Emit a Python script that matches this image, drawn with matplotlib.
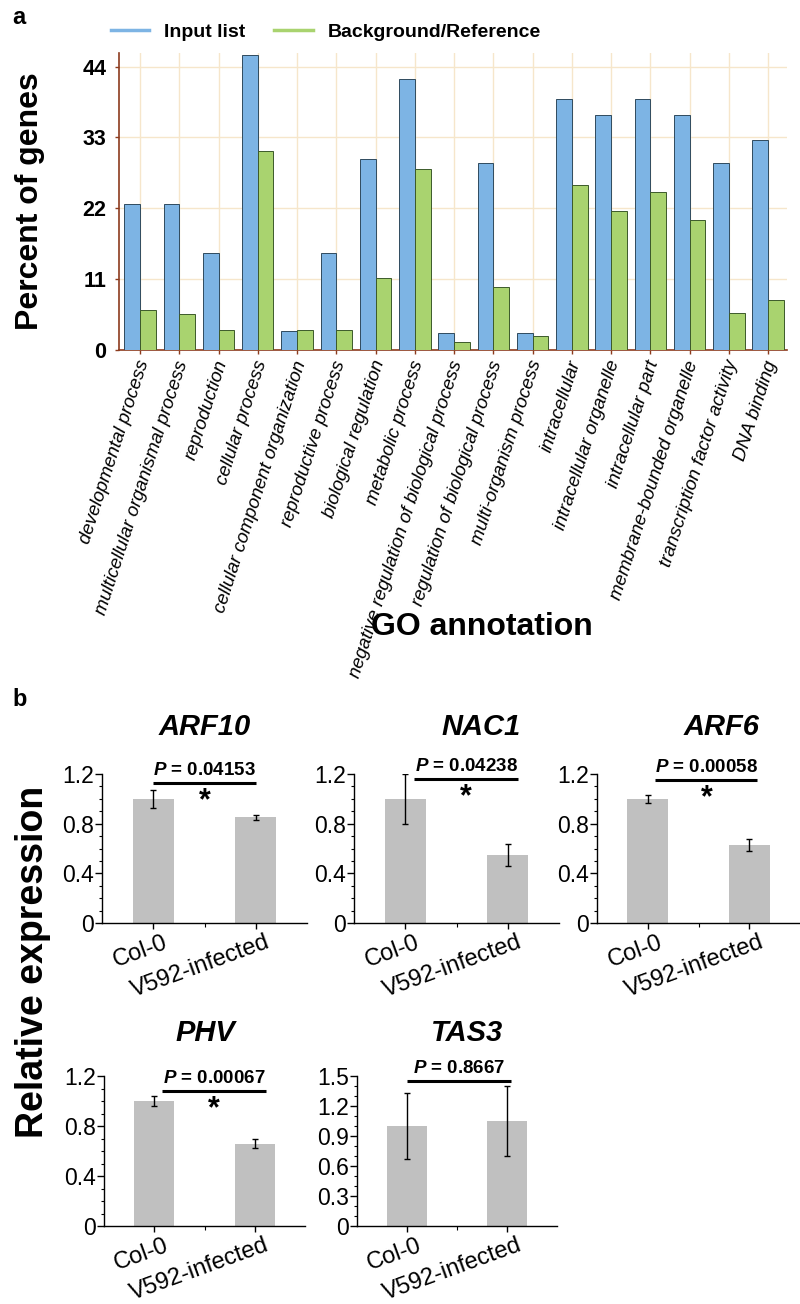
import numpy as np
import matplotlib
matplotlib.use("Agg")
import matplotlib.pyplot as plt
from matplotlib.lines import Line2D
from matplotlib.ticker import MultipleLocator
import matplotlib.transforms as mtransforms

plt.rcParams['font.family'] = ['Liberation Sans', 'DejaVu Sans']
plt.rcParams['mathtext.fontset'] = 'custom'
plt.rcParams['mathtext.bfit'] = 'Liberation Sans:italic:bold'
plt.rcParams['mathtext.bf'] = 'Liberation Sans:bold'

# ---- panel a data (GO annotation) ----
go_terms = ["developmental process", "multicellular organismal process", "reproduction",
            "cellular process", "cellular component organization", "reproductive process",
            "biological regulation", "metabolic process",
            "negative regulation of biological process", "regulation of biological process",
            "multi-organism process", "intracellular", "intracellular organelle",
            "intracellular part", "membrane-bounded organelle",
            "transcription factor activity", "DNA binding"]
input_list = [22.6, 22.6, 15.0, 45.8, 3.0, 15.0, 29.6, 42.0, 2.7, 29.1, 2.7,
              39.0, 36.4, 39.0, 36.4, 29.1, 32.6]
background = [6.2, 5.6, 3.1, 30.9, 3.1, 3.1, 11.1, 28.1, 1.3, 9.8, 2.2,
              25.6, 21.6, 24.6, 20.2, 5.8, 7.7]
go_ticks = [0, 11, 22, 33, 44]

# ---- panel b data (qPCR) ----
genes = ["ARF10", "NAC1", "ARF6", "PHV", "TAS3"]
groups = ["Col-0", "V592-infected"]
expr_col0 = [1.0, 1.0, 1.0, 1.0, 1.0]
expr_v592 = [0.85, 0.55, 0.63, 0.66, 1.05]
err_col0 = [0.07, 0.20, 0.03, 0.04, 0.33]
err_v592 = [0.02, 0.09, 0.05, 0.035, 0.35]
p_values = ["0.04153", "0.04238", "0.00058", "0.00067", "0.8667"]
significant = [True, True, True, True, False]
y_max = [1.2, 1.2, 1.2, 1.2, 1.5]
y_step = [0.4, 0.4, 0.4, 0.4, 0.3]

W, H = 800, 1304
fig = plt.figure(figsize=(W / 100, H / 100), dpi=100)


def px_axes(l, t, r, b):
    return fig.add_axes([l / W, 1 - b / H, (r - l) / W, (b - t) / H])


def shift_labels(labels, dx_px, dy_px=0):
    off = mtransforms.ScaledTranslation(dx_px / 100, dy_px / 100, fig.dpi_scale_trans)
    for lab in labels:
        lab.set_transform(lab.get_transform() + off)


# ================= panel a =================
blue = '#7db4e4'
green = '#a9d36f'
brown = '#8c3b1e'

ax = px_axes(119, 53, 787, 350)
x = np.arange(len(go_terms))
ax.bar(x - 0.2, input_list, width=0.4, color=blue, edgecolor='#2f4a5e', linewidth=0.7, zorder=3)
ax.bar(x + 0.2, background, width=0.4, color=green, edgecolor='#3c5a2a', linewidth=0.7, zorder=3)
ax.set_xlim(-0.535, 16.48)
ax.set_ylim(0, 46.1)
ax.set_yticks(go_ticks)
ax.set_xticks(x)
ax.grid(True, color='#f6e6cb', linewidth=1.0, zorder=0)
ax.set_axisbelow(True)
for s in ['top', 'right']:
    ax.spines[s].set_visible(False)
for s in ['left', 'bottom']:
    ax.spines[s].set_color(brown)
    ax.spines[s].set_linewidth(1.2)
ax.tick_params(axis='both', colors=brown, length=3, width=1)
ax.tick_params(axis='y', labelcolor='black', labelsize=15.5, pad=6)
ax.tick_params(axis='x', labelcolor='black', pad=2)
for lab in ax.get_yticklabels():
    lab.set_fontweight('bold')
ax.set_xticklabels(go_terms, rotation=72, ha='right', va='center',
                   rotation_mode='anchor', fontsize=13.5, fontstyle='italic')
shift_labels(ax.get_xticklabels(), 4, -4)
ax.set_ylabel("Percent of genes", fontsize=23, fontweight='bold')
ax.yaxis.set_label_coords((45 - 119) / (787 - 119), 0.5)
fig.text(482 / W, 1 - 627 / H, "GO annotation", fontsize=23, fontweight='bold',
         ha='center', va='center')

handles = [Line2D([], [], color=blue, lw=2.5), Line2D([], [], color=green, lw=2.5)]
fig.legend(handles, ["Input list", "Background/Reference"], ncol=2, frameon=False,
           loc='center left', bbox_to_anchor=(93 / W, 1 - 32 / H),
           prop={'weight': 'bold', 'size': 14}, handlelength=2.0,
           handletextpad=0.77, columnspacing=1.45)

fig.text(12 / W, 1 - 18 / H, "a", fontsize=17, fontweight='bold', ha='left', va='center')
fig.text(12 / W, 1 - 700 / H, "b", fontsize=17, fontweight='bold', ha='left', va='center')

# ================= panel b =================
boxes = [(102, 774, 307, 923), (354, 774, 559, 923), (597, 774, 800, 923),
         (104, 1076, 305, 1226), (357, 1076, 557, 1226)]
title_x = [205, 481, 722, 205, 467]
title_y = [727, 727, 727, 1033, 1033]
sig_line = [(0.0, 1.0, 1.128), (0.09, 1.1, 1.16), (0.076, 1.08, 1.15),
            (0.077, 1.11, 1.08), (0.0, 1.04, 1.45)]

for i, gene in enumerate(genes):
    l, t, r, b = boxes[i]
    bx = px_axes(l, t, r, b)
    vals = [expr_col0[i], expr_v592[i]]
    errs = [err_col0[i], err_v592[i]]
    bx.bar([0, 1], vals, width=0.4, color='#c0c0c0', zorder=2)
    bx.errorbar([0, 1], vals, yerr=errs, fmt='none', ecolor='black',
                elinewidth=1, capsize=2.5, capthick=1, zorder=3)
    bx.set_xlim(-0.5, 1.5)
    bx.set_ylim(0, y_max[i])
    bx.yaxis.set_major_locator(MultipleLocator(y_step[i]))
    bx.yaxis.set_minor_locator(MultipleLocator(0.1))
    bx.set_xticks([0, 1])
    bx.set_xticks([0.5], minor=True)
    bx.set_yticklabels([('%g' % v) for v in bx.get_yticks()])
    for s in ['top', 'right']:
        bx.spines[s].set_visible(False)
    for s in ['left', 'bottom']:
        bx.spines[s].set_linewidth(1.0)
    bx.tick_params(axis='y', which='major', length=5, width=1, labelsize=16.5, pad=1)
    bx.tick_params(axis='y', which='minor', length=2.5, width=0.8)
    bx.tick_params(axis='x', which='major', length=4, width=1, pad=2)
    bx.tick_params(axis='x', which='minor', length=3, width=0.8)
    bx.set_xticklabels(groups, rotation=20, ha='right', va='top',
                       rotation_mode='anchor', fontsize=17)
    shift_labels(bx.get_xticklabels(), 10, 0)

    fig.text(title_x[i] / W, 1 - title_y[i] / H, gene, fontsize=21,
             fontweight='bold', fontstyle='italic', ha='center', va='center')

    x0, x1, yl = sig_line[i]
    bx.plot([x0, x1], [yl, yl], color='black', lw=2.2, clip_on=False, solid_capstyle='butt')
    bx.annotate(r'$\mathbfit{P}$ = ' + p_values[i],
                xy=((x0 + x1) / 2, yl), xytext=(0, 3), textcoords='offset points',
                ha='center', va='bottom', fontsize=13.5, fontweight='bold',
                annotation_clip=False)
    if significant[i]:
        bx.annotate('*', xy=((x0 + x1) / 2, yl), xytext=(0, -19), textcoords='offset points',
                    ha='center', va='baseline', fontsize=22, fontweight='bold',
                    annotation_clip=False)

fig.text(33 / W, 1 - 962 / H, "Relative expression", fontsize=27, fontweight='bold',
         rotation=90, ha='center', va='center')

fig.savefig("out.png", dpi=100)
